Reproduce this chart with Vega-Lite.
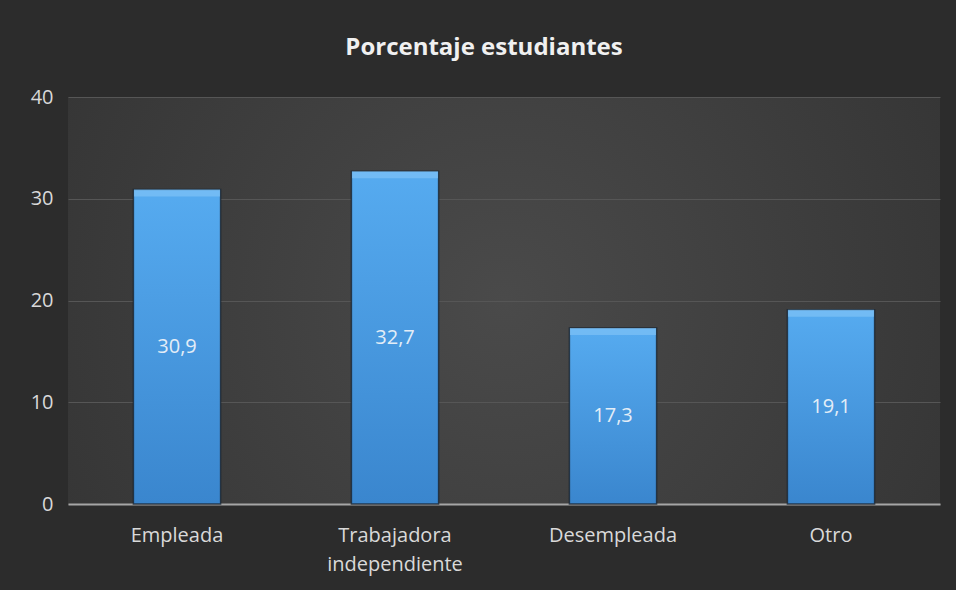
{
  "$schema": "https://vega.github.io/schema/vega-lite/v6.json",
  "width": 872,
  "height": 407,
  "autosize": {"type": "none"},
  "padding": {"left": 68, "top": 97, "right": 16, "bottom": 86},
  "background": "#2c2c2c",
  "title": {
    "text": "Porcentaje estudiantes",
    "font": "Open Sans",
    "fontSize": 24,
    "fontWeight": "bold",
    "color": "#f0f0f0",
    "anchor": "middle",
    "dx": -20,
    "baseline": "alphabetic",
    "offset": 8
  },
  "data": {
    "values": [
      {"cat": "Empleada", "v": 30.9},
      {"cat": "Trabajadora independiente", "v": 32.7},
      {"cat": "Desempleada", "v": 17.3},
      {"cat": "Otro", "v": 19.1}
    ]
  },
  "encoding": {
    "x": {
      "field": "cat",
      "type": "nominal",
      "sort": null,
      "scale": {"paddingInner": 0.6, "paddingOuter": 0.3},
      "axis": {
        "title": null,
        "labelAngle": 0,
        "domainColor": "#a6a6a6",
        "domainWidth": 2,
        "ticks": false,
        "labelPadding": 21,
        "labelFont": "Open Sans",
        "labelFontSize": 20,
        "labelColor": "#d9d9d9",
        "labelExpr": "split(datum.value, ' ')",
        "labelLineHeight": 29,
        "grid": false
      }
    }
  },
  "layer": [
    {
      "mark": {
        "type": "bar",
        "color": {
          "gradient": "linear",
          "x1": 0, "y1": 0, "x2": 0, "y2": 1,
          "stops": [
            {"offset": 0, "color": "#56abf0"},
            {"offset": 1, "color": "#3a86ce"}
          ]
        },
        "stroke": "#1c2631",
        "strokeWidth": 1.5,
        "strokeOpacity": 0.8
      },
      "encoding": {
        "y": {
          "field": "v",
          "type": "quantitative",
          "scale": {"domain": [0, 40], "nice": false},
          "axis": {
            "title": null,
            "values": [0, 10, 20, 30, 40],
            "grid": true,
            "gridColor": "#565656",
            "gridWidth": 1,
            "domain": false,
            "ticks": false,
            "labelPadding": 15,
            "labelFont": "Open Sans",
            "labelFontSize": 20,
            "labelColor": "#d9d9d9"
          }
        }
      }
    },
    {
      "mark": {"type": "tick", "color": "#7fc2f6", "thickness": 7, "size": 86, "yOffset": 3.5},
      "encoding": {
        "y": {"field": "v", "type": "quantitative", "scale": {"domain": [0, 40], "nice": false}, "axis": null}
      }
    },
    {
      "mark": {"type": "text", "font": "Open Sans", "fontSize": 20, "color": "#e3edf7", "baseline": "middle"},
      "encoding": {
        "y": {"field": "v", "type": "quantitative", "scale": {"domain": [0, 80], "nice": false}, "axis": null},
        "text": {"field": "v", "type": "quantitative", "format": ".1f"}
      }
    }
  ],
  "resolve": {"scale": {"y": "independent"}},
  "config": {
    "locale": {"number": {"decimal": ",", "thousands": ".", "grouping": [3], "currency": ["", " €"]}},
    "view": {
      "stroke": null,
      "fill": {
        "gradient": "radial",
        "x1": 0.5, "y1": 0.5, "x2": 0.5, "y2": 0.5,
        "r1": 0, "r2": 0.75,
        "stops": [
          {"offset": 0, "color": "#4a4a4a"},
          {"offset": 1, "color": "#2f2f2f"}
        ]
      }
    }
  }
}
